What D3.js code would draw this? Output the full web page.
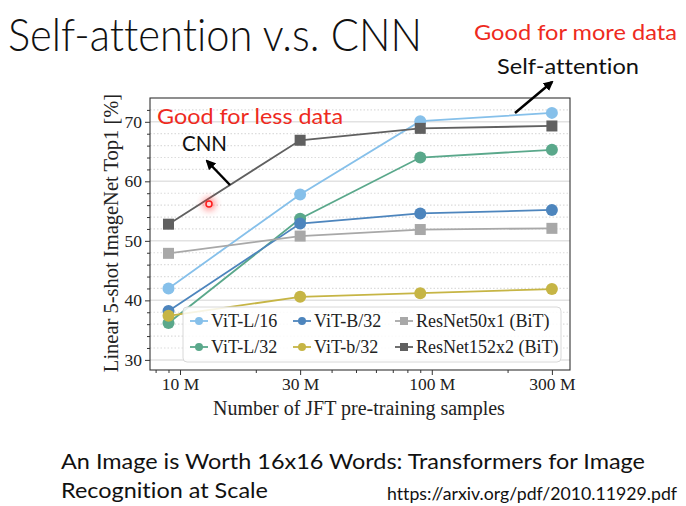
<!DOCTYPE html>
<html>
<head>
<meta charset="utf-8">
<script src="https://cdn.jsdelivr.net/npm/d3@7"></script>
<style>
  body { margin: 0; background: #fff; }
  svg { display: block; }
  text { font-variant-ligatures: none; }
</style>
</head>
<body>
<div id="chart"></div>
<script>
// pre-training set sizes (x) and the 5-shot accuracy of each model
const samples = [9e6, 30e6, 90e6, 300e6];
const xTickValues = [10e6, 30e6, 100e6, 300e6];
const xTickLabels = ["10 M", "30 M", "100 M", "300 M"];
const yTickValues = [30, 40, 50, 60, 70];

const vitL16 = [42.0, 57.8, 70.1, 71.5];
const vitL32 = [36.2, 53.7, 64.0, 65.3];
const vitB32 = [38.2, 52.9, 54.6, 55.2];
const vitb32 = [37.4, 40.6, 41.2, 41.9];
const resnet50 = [47.9, 50.8, 51.9, 52.1];
const resnet152 = [52.8, 66.9, 68.9, 69.3];

const seriesNames = ["ViT-L/16", "ViT-L/32", "ViT-B/32", "ViT-b/32", "ResNet50x1 (BiT)", "ResNet152x2 (BiT)"];
const seriesValues = [vitL16, vitL32, vitB32, vitb32, resnet50, resnet152];
const seriesColors = ["#86c0ea", "#5aa88b", "#4d85bd", "#c6b545", "#a8a8a8", "#606060"];
const seriesShapes = ["circle", "circle", "circle", "circle", "square", "square"];

const W = 686, H = 506;
const plot = { left: 150, right: 570, top: 98, bottom: 370 };
const serif = "'Liberation Serif', 'DejaVu Serif', serif";
const sans = "Lato, 'Open Sans', sans-serif";
const red = "#ee2a1e";

const svg = d3.select("#chart").append("svg").attr("width", W).attr("height", H);

const defs = svg.append("defs");
defs.append("marker").attr("id", "arrow").attr("viewBox", "0 0 10 10")
  .attr("refX", 8).attr("refY", 5).attr("markerWidth", 4).attr("markerHeight", 4)
  .attr("orient", "auto")
  .append("path").attr("d", "M0,0L10,5L0,10z").attr("fill", "#000");
defs.append("filter").attr("id", "glow").attr("x", "-100%").attr("y", "-100%").attr("width", "300%").attr("height", "300%")
  .append("feGaussianBlur").attr("stdDeviation", 3);

const x = d3.scaleLog().domain([7.6e6, 3.54e8]).range([plot.left, plot.right]);
const y = d3.scaleLinear().domain([28.3, 74]).range([plot.bottom, plot.top]);

// grid: solid for major, dotted every 2 points
const minorY = d3.range(30, 74, 2).filter(v => v % 10 !== 0);
svg.append("g").selectAll("line").data(minorY).join("line")
  .attr("x1", plot.left).attr("x2", plot.right)
  .attr("y1", d => y(d)).attr("y2", d => y(d))
  .attr("stroke", "#dcdcdc").attr("stroke-width", 1.2).attr("stroke-dasharray", "1.5,2");
svg.append("g").selectAll("line").data(yTickValues).join("line")
  .attr("x1", plot.left).attr("x2", plot.right)
  .attr("y1", d => y(d)).attr("y2", d => y(d))
  .attr("stroke", "#e2e2e2").attr("stroke-width", 1.5);

// axes
const yAxis = svg.append("g").attr("transform", `translate(${plot.left},0)`)
  .call(d3.axisLeft(y).tickValues(yTickValues).tickSize(5).tickPadding(3).tickFormat(d3.format("d")));
svg.append("g").attr("transform", `translate(${plot.left},0)`)
  .call(d3.axisLeft(y).tickValues(minorY).tickSize(3).tickFormat(""));

const minorX = [];
[1e6, 1e7, 1e8].forEach(base => {
  for (let k = 2; k <= 9; k++) {
    const v = base * k;
    if (v > x.domain()[0] && v < x.domain()[1] && !xTickValues.includes(v)) minorX.push(v);
  }
});
const xAxis = svg.append("g").attr("transform", `translate(0,${plot.bottom})`)
  .call(d3.axisBottom(x).tickValues(xTickValues).tickSize(5).tickPadding(3)
    .tickFormat((d, i) => xTickLabels[i]));
svg.append("g").attr("transform", `translate(0,${plot.bottom})`)
  .call(d3.axisBottom(x).tickValues(minorX).tickSize(3).tickFormat(""));

svg.selectAll(".domain").remove();
svg.selectAll(".tick line").attr("stroke", "#333");
[yAxis, xAxis].forEach(ax => ax.selectAll("text")
  .attr("font-family", serif).attr("font-size", 17.5).attr("fill", "#222"));

svg.append("rect").attr("x", plot.left).attr("y", plot.top)
  .attr("width", plot.right - plot.left).attr("height", plot.bottom - plot.top)
  .attr("fill", "none").attr("stroke", "#333").attr("stroke-width", 1.1);

// axis titles
svg.append("text").attr("x", (plot.left + plot.right) / 2 - 1).attr("y", 415)
  .attr("text-anchor", "middle").attr("font-family", serif).attr("font-size", 20)
  .attr("fill", "#222").text("Number of JFT pre-training samples");
svg.append("text").attr("transform", `translate(118,${(plot.top + plot.bottom) / 2 - 1}) rotate(-90)`)
  .attr("text-anchor", "middle").attr("font-family", serif).attr("font-size", 20.5)
  .attr("fill", "#222").text("Linear 5-shot ImageNet Top1 [%]");

// lines and markers
const line = d3.line().x((d, i) => x(samples[i])).y(d => y(d));
seriesValues.forEach((vals, s) => {
  const g = svg.append("g");
  g.append("path").datum(vals).attr("d", line)
    .attr("fill", "none").attr("stroke", seriesColors[s]).attr("stroke-width", 1.8);
  if (seriesShapes[s] === "circle") {
    g.selectAll("circle").data(vals).join("circle")
      .attr("cx", (d, i) => x(samples[i])).attr("cy", d => y(d)).attr("r", 6)
      .attr("fill", seriesColors[s]);
  } else {
    g.selectAll("rect").data(vals).join("rect")
      .attr("x", (d, i) => x(samples[i]) - 5.5).attr("y", d => y(d) - 5.5)
      .attr("width", 11).attr("height", 11).attr("fill", seriesColors[s]);
  }
});

// legend, 3 columns filled column-wise like matplotlib
const legend = svg.append("g");
legend.append("rect").attr("x", 183).attr("y", 307).attr("width", 378).attr("height", 55)
  .attr("rx", 4).attr("fill", "#fff").attr("fill-opacity", 0.85)
  .attr("stroke", "#d8d8d8").attr("stroke-width", 1);
const colX = [190, 293, 395];
const rowY = [321, 347];
seriesNames.forEach((name, s) => {
  const cx = colX[Math.floor(s / 2)], cy = rowY[s % 2];
  const item = legend.append("g");
  item.append("line").attr("x1", cx).attr("x2", cx + 18).attr("y1", cy).attr("y2", cy)
    .attr("stroke", seriesColors[s]).attr("stroke-width", 1.8);
  if (seriesShapes[s] === "circle") {
    item.append("circle").attr("cx", cx + 9).attr("cy", cy).attr("r", 4).attr("fill", seriesColors[s]);
  } else {
    item.append("rect").attr("x", cx + 5).attr("y", cy - 4).attr("width", 8).attr("height", 8)
      .attr("fill", seriesColors[s]);
  }
  item.append("text").attr("x", cx + 21).attr("y", cy + 6)
    .attr("font-family", serif).attr("font-size", 18).attr("fill", "#222").text(name);
});

// slide annotations
svg.append("text").attr("x", 8).attr("y", 51).attr("font-family", sans).attr("font-size", 45)
  .attr("font-weight", 300).attr("fill", "#111").attr("textLength", 414).attr("lengthAdjust", "spacingAndGlyphs")
  .text("Self-attention v.s. CNN");
svg.append("text").attr("x", 474).attr("y", 40).attr("font-family", sans).attr("font-size", 22)
  .attr("fill", red).attr("textLength", 203).attr("lengthAdjust", "spacingAndGlyphs")
  .text("Good for more data");
svg.append("text").attr("x", 497).attr("y", 74).attr("font-family", sans).attr("font-size", 22)
  .attr("fill", "#111").attr("textLength", 142).attr("lengthAdjust", "spacingAndGlyphs")
  .text("Self-attention");
svg.append("text").attr("x", 157).attr("y", 124).attr("font-family", sans).attr("font-size", 22)
  .attr("fill", red).attr("textLength", 186).attr("lengthAdjust", "spacingAndGlyphs")
  .text("Good for less data");
svg.append("text").attr("x", 182).attr("y", 151).attr("font-family", sans).attr("font-size", 22)
  .attr("fill", "#111").attr("textLength", 45).attr("lengthAdjust", "spacingAndGlyphs").text("CNN");

svg.append("line").attr("x1", 515).attr("y1", 113).attr("x2", 552).attr("y2", 82)
  .attr("stroke", "#000").attr("stroke-width", 2.5).attr("marker-end", "url(#arrow)");
svg.append("line").attr("x1", 230).attr("y1", 185).attr("x2", 207).attr("y2", 161)
  .attr("stroke", "#000").attr("stroke-width", 2.5).attr("marker-end", "url(#arrow)");

// laser pointer dot
svg.append("circle").attr("cx", 209).attr("cy", 204).attr("r", 7)
  .attr("fill", "#ff3030").attr("opacity", 0.45).attr("filter", "url(#glow)");
svg.append("circle").attr("cx", 209).attr("cy", 204).attr("r", 3)
  .attr("fill", "#ffd0d0").attr("stroke", "#ff1a1a").attr("stroke-width", 1.5);

// reference text at the bottom
svg.append("text").attr("x", 61).attr("y", 469).attr("font-family", sans).attr("font-size", 22)
  .attr("fill", "#111").attr("textLength", 584).attr("lengthAdjust", "spacingAndGlyphs")
  .text("An Image is Worth 16x16 Words: Transformers for Image");
svg.append("text").attr("x", 61).attr("y", 498).attr("font-family", sans).attr("font-size", 22)
  .attr("fill", "#111").attr("textLength", 207).attr("lengthAdjust", "spacingAndGlyphs")
  .text("Recognition at Scale");
svg.append("text").attr("x", 387).attr("y", 500).attr("font-family", sans).attr("font-size", 17.5)
  .attr("fill", "#111").attr("textLength", 290).attr("lengthAdjust", "spacingAndGlyphs")
  .text("https://arxiv.org/pdf/2010.11929.pdf");
</script>
</body>
</html>
